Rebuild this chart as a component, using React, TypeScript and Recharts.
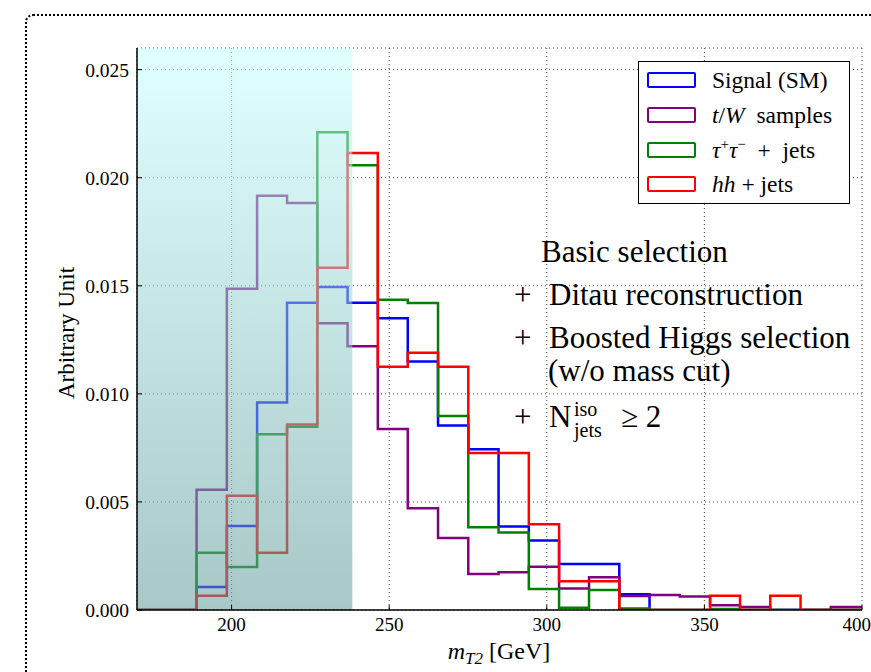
import { LineChart, Line, XAxis, YAxis, CartesianGrid, ReferenceArea, Legend } from 'recharts';

// lower bin edges (GeV)
const binEdges = [
  188.9, 198.5, 208.1, 217.6, 227.2, 236.8, 246.4, 255.9, 265.5, 275.1, 284.7,
  294.3, 303.9, 313.4, 323.0, 332.6, 342.2, 351.8, 361.3, 370.9, 380.5, 390.1,
];

const signalSM = [
  0.00106, 0.00389, 0.0096, 0.01421, 0.01494, 0.01421, 0.0135, 0.0115, 0.00853,
  0.00744, 0.00386, 0.00321, 0.00213, 0.00213, 0.00073, 0, 0, 0, 0, 0, 0, 0,
];
const tWSamples = [
  0.00556, 0.01486, 0.01917, 0.01883, 0.01327, 0.0122, 0.00837, 0.00471,
  0.00333, 0.00167, 0.00175, 0.002, 0.00099, 0.00151, 0.00065, 0.00069,
  0.00062, 0.00022, 0.00014, 0, 0, 0.00014,
];
const tauTauJets = [
  0.00265, 0.00199, 0.00813, 0.00848, 0.0221, 0.02057, 0.01435, 0.0142,
  0.00898, 0.00383, 0.00358, 0.00097, 0.0001, 0.00093, 0.00007, 0, 0, 0.00005,
  0, 0, 0, 0,
];
const hhJets = [
  0.00066, 0.00529, 0.00265, 0.00858, 0.01583, 0.02114, 0.01125, 0.0119,
  0.01125, 0.00726, 0.00726, 0.00397, 0.00133, 0.00133, 0, 0, 0, 0.00066, 0,
  0.00066, 0, 0,
];

const xTicks = [200, 250, 300, 350, 400];
const yTicks = [0, 0.005, 0.01, 0.015, 0.02, 0.025];
const X_MIN = 170;
const X_MAX = 400;
const Y_MAX = 0.026;
const SHADE_END = 238.3;

const FONT = '"Liberation Serif", "Times New Roman", serif';

const series = [
  { key: 'signal', color: '#0000ff', values: signalSM },
  { key: 'tw', color: '#800080', values: tWSamples },
  { key: 'tautau', color: '#008000', values: tauTauJets },
  { key: 'hh', color: '#ff0000', values: hhJets },
];

const legendLabels: Record<string, React.ReactNode> = {
  signal: <span>Signal (SM)</span>,
  tw: (
    <span>
      <i>t</i>/<i>W</i>&nbsp; samples
    </span>
  ),
  tautau: (
    <span>
      <i>τ</i>
      <sup style={{ fontSize: 15 }}>+</sup>
      <i>τ</i>
      <sup style={{ fontSize: 15 }}>−</sup>&nbsp;&nbsp;+&nbsp;&nbsp;jets
    </span>
  ),
  hh: (
    <span>
      <i>hh</i> + jets
    </span>
  ),
};

// step-histogram table: flat zero before the first edge, last bin runs to the axis end
const rows = [
  { x: X_MIN, signal: 0, tw: 0, tautau: 0, hh: 0 },
  ...binEdges.map((e, i) => ({
    x: e,
    signal: signalSM[i],
    tw: tWSamples[i],
    tautau: tauTauJets[i],
    hh: hhJets[i],
  })),
  {
    x: X_MAX,
    signal: signalSM[signalSM.length - 1],
    tw: tWSamples[tWSamples.length - 1],
    tautau: tauTauJets[tauTauJets.length - 1],
    hh: hhJets[hhJets.length - 1],
  },
];

function LegendBox() {
  return (
    <div
      style={{
        width: 212,
        height: 143,
        border: '1.5px solid #000',
        background: '#fff',
        boxSizing: 'border-box',
        fontFamily: FONT,
        fontSize: 23.5,
        color: '#000',
        paddingTop: 1,
      }}
    >
      {series.map((s) => (
        <div
          key={s.key}
          style={{ display: 'flex', alignItems: 'center', height: 34.7, whiteSpace: 'nowrap' }}
        >
          <span
            style={{
              display: 'inline-block',
              width: 49,
              height: 16,
              marginLeft: 8,
              marginRight: 16,
              border: `2.5px solid ${s.color}`,
              borderRadius: 2,
              boxSizing: 'border-box',
            }}
          />
          {legendLabels[s.key]}
        </div>
      ))}
    </div>
  );
}

export default function App() {
  return (
    <div
      style={{
        position: 'fixed',
        left: 0,
        top: 0,
        width: 871,
        height: 672,
        overflow: 'hidden',
        background: '#fff',
      }}
    >
      {/* dotted frame around the figure */}
      <div
        style={{
          position: 'absolute',
          left: 25,
          top: 14,
          width: 860,
          height: 720,
          border: '2px dotted #000',
          borderTopLeftRadius: 8,
        }}
      />
      <div style={{ position: 'absolute', left: 0, top: 0 }}>
        <LineChart
          width={871}
          height={672}
          data={rows}
          margin={{ top: 48, right: 9, bottom: 2, left: 57 }}
        >
          <defs>
            <linearGradient id="shadeGrad" x1="0" y1="0" x2="0" y2="1">
              <stop offset="0%" stopColor="rgb(199,255,255)" stopOpacity={0.55} />
              <stop offset="100%" stopColor="rgb(97,155,155)" stopOpacity={0.55} />
            </linearGradient>
          </defs>
          <CartesianGrid stroke="#222" strokeWidth={0.8} strokeDasharray="1 3" />
          <XAxis
            dataKey="x"
            type="number"
            domain={[X_MIN, X_MAX]}
            ticks={xTicks}
            allowDataOverflow
            height={60}
            tickSize={-5}
            tickMargin={13}
            stroke="#000"
            axisLine={{ stroke: '#000', strokeWidth: 1.5 }}
            tick={{ fontFamily: FONT, fontSize: 19, fill: '#000' }}
          />
          <XAxis
            xAxisId="top"
            orientation="top"
            dataKey="x"
            type="number"
            domain={[X_MIN, X_MAX]}
            ticks={xTicks}
            allowDataOverflow
            height={0}
            tickSize={-5}
            tick={false}
            stroke="#000"
            axisLine={{ stroke: '#000', strokeWidth: 1.5 }}
          />
          <YAxis
            type="number"
            domain={[0, Y_MAX]}
            ticks={yTicks}
            allowDataOverflow
            width={80}
            tickSize={-5}
            tickMargin={13}
            stroke="#000"
            axisLine={{ stroke: '#000', strokeWidth: 1.5 }}
            tickFormatter={(v: number) => v.toFixed(3)}
            tick={{ fontFamily: FONT, fontSize: 19.5, fill: '#000' }}
          />
          <YAxis
            yAxisId="right"
            orientation="right"
            type="number"
            domain={[0, Y_MAX]}
            ticks={yTicks}
            allowDataOverflow
            width={0}
            tickSize={-5}
            tick={false}
            stroke="#000"
            axisLine={{ stroke: '#000', strokeWidth: 1.5 }}
          />
          {series.map((s) => (
            <Line
              key={s.key}
              dataKey={s.key}
              type="stepAfter"
              stroke={s.color}
              strokeWidth={2.5}
              dot={false}
              activeDot={false}
              isAnimationActive={false}
            />
          ))}
          <ReferenceArea
            x1={X_MIN}
            x2={SHADE_END}
            y1={0}
            y2={Y_MAX}
            fill="url(#shadeGrad)"
            fillOpacity={1}
            stroke="none"
            zIndex={450}
          />
          <Legend
            layout="vertical"
            align="center"
            verticalAlign="middle"
            wrapperStyle={{ position: 'absolute', left: 638, top: 61, width: 212 }}
            content={() => <LegendBox />}
          />
          <text
            x={66}
            y={333}
            transform="rotate(-90, 66, 333)"
            textAnchor="middle"
            dominantBaseline="central"
            fontFamily={FONT}
            fontSize={23}
            fill="#000"
          >
            Arbitrary Unit
          </text>
          <text x={499} y={659} textAnchor="middle" fontFamily={FONT} fontSize={24} fill="#000">
            <tspan fontStyle="italic">m</tspan>
            <tspan fontStyle="italic" fontSize={17} dy={5}>
              T2
            </tspan>
            <tspan dy={-5}> [GeV]</tspan>
          </text>
          <g fontFamily={FONT} fontSize={31} fill="#000">
            <text x={541} y={262}>Basic selection</text>
            <text x={514} y={305}>+</text>
            <text x={549} y={305}>Ditau reconstruction</text>
            <text x={514} y={348}>+</text>
            <text x={549} y={348}>Boosted Higgs selection</text>
            <text x={548} y={381}>(w/o mass cut)</text>
            <text x={514} y={427}>+</text>
            <text x={549} y={427}>N</text>
            <text x={574} y={416} fontSize={20}>iso</text>
            <text x={574} y={437} fontSize={20}>jets</text>
            <text x={621} y={427}>≥ 2</text>
          </g>
        </LineChart>
      </div>
    </div>
  );
}
